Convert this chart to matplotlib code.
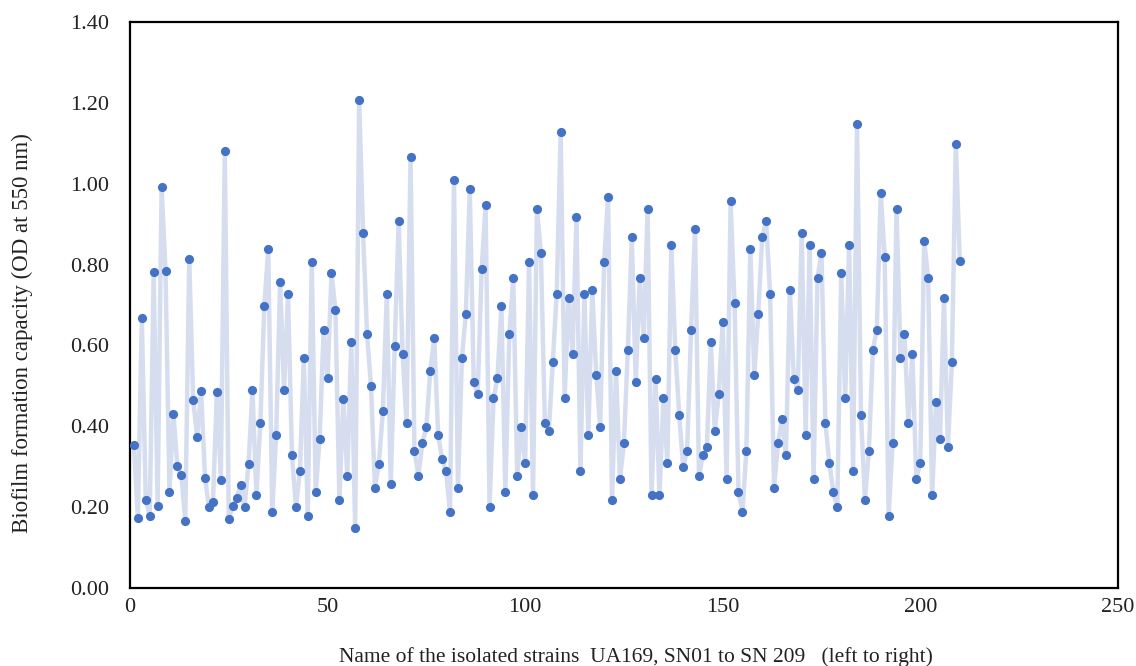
import matplotlib.pyplot as plt

# biofilm OD readings, strain order left to right
od_values = [
    0.354, 0.174, 0.669, 0.217, 0.179, 0.781, 0.204, 0.991, 0.785, 0.237,
    0.431, 0.302, 0.280, 0.166, 0.815, 0.465, 0.373, 0.488, 0.272, 0.200,
    0.213, 0.486, 0.268, 1.082, 0.170, 0.204, 0.223, 0.256, 0.200, 0.307,
    0.490, 0.229, 0.409, 0.698, 0.838, 0.189, 0.378, 0.758, 0.489, 0.728,
    0.329, 0.200, 0.289, 0.568, 0.178, 0.807, 0.238, 0.368, 0.638, 0.519,
    0.778, 0.688, 0.219, 0.468, 0.278, 0.608, 0.149, 1.207, 0.878, 0.628,
    0.499, 0.248, 0.308, 0.438, 0.728, 0.258, 0.598, 0.907, 0.578, 0.408,
    1.067, 0.339, 0.278, 0.358, 0.398, 0.538, 0.618, 0.378, 0.319, 0.289,
    0.189, 1.008, 0.248, 0.568, 0.678, 0.988, 0.509, 0.479, 0.788, 0.948,
    0.200, 0.469, 0.519, 0.698, 0.238, 0.628, 0.768, 0.278, 0.398, 0.309,
    0.807, 0.229, 0.938, 0.828, 0.409, 0.388, 0.558, 0.728, 1.128, 0.469,
    0.718, 0.578, 0.918, 0.289, 0.728, 0.378, 0.738, 0.528, 0.398, 0.807,
    0.968, 0.219, 0.538, 0.269, 0.358, 0.589, 0.868, 0.509, 0.768, 0.618,
    0.938, 0.229, 0.518, 0.229, 0.469, 0.309, 0.848, 0.589, 0.428, 0.299,
    0.339, 0.638, 0.888, 0.278, 0.329, 0.349, 0.608, 0.388, 0.479, 0.658,
    0.269, 0.957, 0.705, 0.238, 0.189, 0.339, 0.838, 0.528, 0.678, 0.868,
    0.907, 0.728, 0.248, 0.358, 0.418, 0.329, 0.738, 0.518, 0.489, 0.878,
    0.378, 0.848, 0.269, 0.768, 0.828, 0.408, 0.309, 0.238, 0.200, 0.778,
    0.469, 0.848, 0.289, 1.148, 0.428, 0.219, 0.339, 0.589, 0.638, 0.977,
    0.818, 0.179, 0.358, 0.937, 0.568, 0.628, 0.409, 0.578, 0.269, 0.309,
    0.858, 0.768, 0.229, 0.459, 0.368, 0.718, 0.349, 0.558, 1.098, 0.808,
]
strain_index = list(range(1, len(od_values) + 1))

x_ticks = [0, 50, 100, 150, 200, 250]
y_ticks = [0.0, 0.2, 0.4, 0.6, 0.8, 1.0, 1.2, 1.4]

plt.rcParams['font.family'] = ['Liberation Serif', 'DejaVu Serif']

fig = plt.figure(figsize=(11.36, 6.66), dpi=100)
ax = fig.add_axes([0.1144, 0.117, 0.8696, 0.850])

ax.plot(strain_index, od_values, color="#d5ddef", linewidth=3.2, zorder=2)
ax.plot(strain_index, od_values, linestyle="none", marker="o", markersize=6.6,
        color="#4472c4", markeredgewidth=0, zorder=3)

ax.set_xlim(0, 250)
ax.set_ylim(0, 1.4)
ax.set_xticks(x_ticks)
ax.set_yticks(y_ticks)
ax.set_yticklabels([f"{v:.2f}" for v in y_ticks])
ax.tick_params(axis="both", length=0, labelsize=16, colors="#222222")
ax.tick_params(axis="y", pad=15)
ax.tick_params(axis="x", pad=7)

for side in ax.spines.values():
    side.set_color("black")
    side.set_linewidth(1.6)

ax.set_xlabel("Name of the isolated strains  UA169, SN01 to SN 209   (left to right)",
              fontsize=15.5, color="#222222")
ax.set_ylabel("Biofilm formation capacity (OD at 550 nm)", fontsize=16.5,
              color="#222222")
ax.xaxis.set_label_coords(0.512, -0.104)
ax.yaxis.set_label_coords(-0.098, 0.45)

fig.savefig("out.png", dpi=100)
